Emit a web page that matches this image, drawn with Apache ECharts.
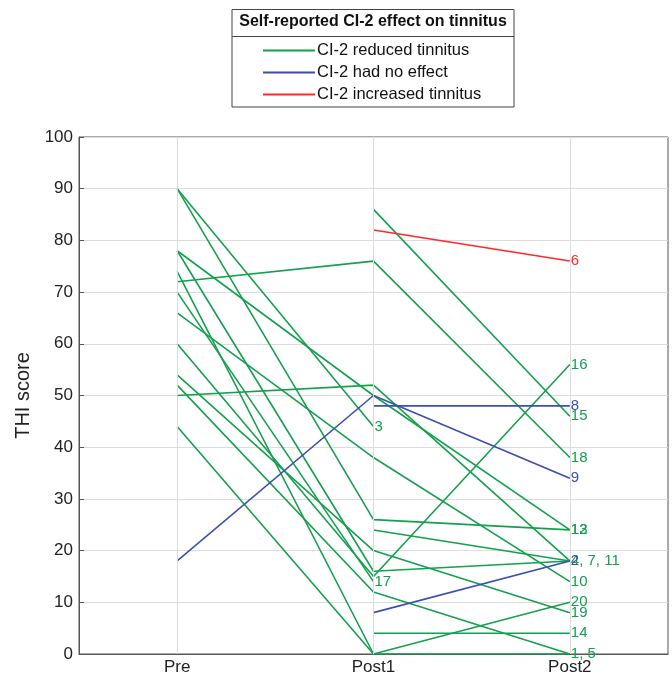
<!DOCTYPE html>
<html><head><meta charset="utf-8">
<script src="https://cdn.jsdelivr.net/npm/echarts@6/dist/echarts.min.js"></script>
<style>html,body{margin:0;padding:0;background:#fff}#c{width:672px;height:680px}</style>
</head><body><div id="c"></div>
<script>
const categories = ['Pre', 'Post1', 'Post2'];
const yTicks = [0, 10, 20, 30, 40, 50, 60, 70, 80, 90, 100];
const groupNames = ['CI-2 reduced tinnitus', 'CI-2 had no effect', 'CI-2 increased tinnitus'];
const groupColors = ['#14a04e', '#3d4fae', '#ff2a2a'];

// Subject values [Pre, Post1, Post2]; null = missing
const s1  = [44, 0, 0];
const s2  = [null, 8, 18];
const s3  = [90, 44, null];
const s4  = [null, 24, 18];
const s5  = [52, 12, 0];
const s6  = [null, 82, 76];
const s7  = [78, 16, 18];
const s8  = [null, 48, 48];
const s9  = [18, 50, 34];
const s10 = [66, 38, 14];
const s11 = [50, 52, 18];
const s12 = [78, 50, 24];
const s13 = [90, 26, 24];
const s14 = [null, 4, 4];
const s15 = [null, 86, 46];
const s16 = [60, 15, 56];
const s17 = [70, 14, null];
const s18 = [72, 76, 38];
const s19 = [54, 20, 8];
const s20 = [74, 0, 10];

// group index per subject (0 reduced, 1 no effect, 2 increased)
const subjectGroup = [0,1,0,0,0,2,0,1,1,0,0,0,0,0,0,0,0,0,0,0];
// text labels at each subject's last point ('' = none)
const subjectLabel = ['1, 5','2','3','4, 7, 11','','6','','8','9','10','','12','13','14','15','16','17','18','19','20'];

const subjects = [s1,s2,s3,s4,s5,s6,s7,s8,s9,s10,s11,s12,s13,s14,s15,s16,s17,s18,s19,s20];
const FONT = 'Liberation Sans, Arial, sans-serif';

const series = subjects.map((vals, i) => {
  const g = subjectGroup[i];
  let last = -1;
  vals.forEach((v, k) => { if (v !== null) last = k; });
  const data = vals.map((v, k) => {
    if (k === last && subjectLabel[i]) {
      return { value: v, label: { show: true, formatter: subjectLabel[i] } };
    }
    return v;
  });
  return {
    type: 'line', name: groupNames[g], data: data,
    symbol: 'circle', symbolSize: 0.01, showSymbol: true,
    connectNulls: false, z: g === 0 ? 2 : 3,
    lineStyle: { color: groupColors[g], width: 1.6 },
    itemStyle: { color: groupColors[g] },
    label: { show: false, position: 'right', distance: 1, fontSize: 15,
             fontFamily: FONT, color: groupColors[g] },
    labelLayout: { hideOverlap: false },
    emphasis: { disabled: true }, animation: false
  };
});
// vertical grid lines at categories
series.push({
  type: 'line', data: [], silent: true, z: 1,
  markLine: { symbol: 'none', silent: true, label: { show: false },
    lineStyle: { color: '#dcdcdc', type: 'solid', width: 1 },
    data: categories.map(c => ({ xAxis: c })) }
});

const chart = echarts.init(document.getElementById('c'), null, { renderer: 'canvas' });
chart.setOption({
  animation: false,
  backgroundColor: '#fff',
  grid: { left: 79, right: 4, top: 137, bottom: 26, show: true, borderColor: '#555', borderWidth: 1 },
  legend: {
    data: groupNames, orient: 'vertical', left: 263, top: 42, itemGap: 5, padding: 0,
    icon: 'rect', itemWidth: 52, itemHeight: 2,
    textStyle: { fontSize: 16.5, color: '#111', fontFamily: FONT, padding: [0,0,0,-3] },
    selectedMode: false
  },
  graphic: [
    { type: 'rect', x: 232, y: 9.5, shape: { width: 282, height: 97.5 },
      style: { fill: 'none', stroke: '#444', lineWidth: 1 }, z: 10 },
    { type: 'line', shape: { x1: 232, y1: 36.5, x2: 514, y2: 36.5 }, style: { stroke: '#444', lineWidth: 1 }, z: 10 },
    { type: 'text', x: 373, y: 14,
      style: { text: 'Self-reported CI-2 effect on tinnitus', fontSize: 16, fontWeight: 'bold',
               fontFamily: FONT, fill: '#111', textAlign: 'center' }, z: 10 }
  ],
  xAxis: {
    type: 'category', data: categories, boundaryGap: true,
    axisLine: { lineStyle: { color: '#555' } },
    axisTick: { show: true, inside: true, alignWithLabel: true, length: 5, lineStyle: { color: '#555' } },
    axisLabel: { fontSize: 17, color: '#222', margin: 5, fontFamily: FONT },
    splitLine: { show: false }
  },
  yAxis: {
    type: 'value', min: 0, max: 100, interval: 10,
    name: 'THI score', nameLocation: 'middle', nameGap: 46, nameRotate: 90,
    nameTextStyle: { fontSize: 20, color: '#222', fontFamily: FONT },
    axisLine: { show: true, lineStyle: { color: '#555' } },
    axisTick: { show: true, inside: true, length: 5, lineStyle: { color: '#555' } },
    axisLabel: { fontSize: 17, color: '#222', margin: 6, fontFamily: FONT,
                 formatter: v => yTicks.includes(v) ? String(v) : '' },
    splitLine: { show: true, lineStyle: { color: '#dcdcdc', width: 1 } }
  },
  series: series
});
</script></body></html>
